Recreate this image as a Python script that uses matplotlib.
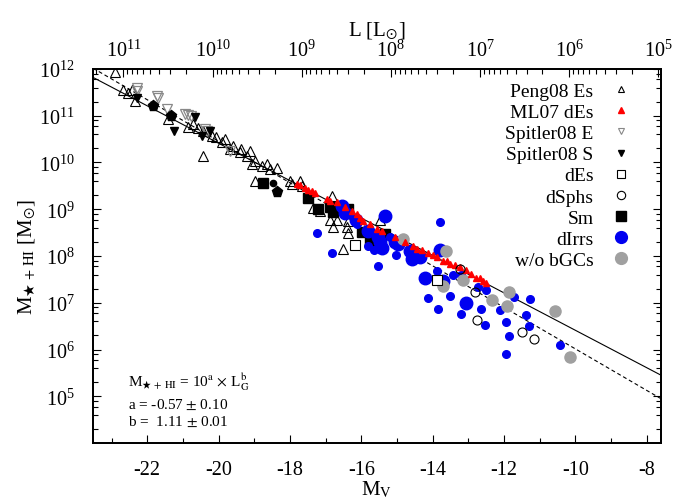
import numpy as np
import matplotlib
matplotlib.use("Agg")
import matplotlib.pyplot as plt
from matplotlib.lines import Line2D
from matplotlib.ticker import LogLocator, MultipleLocator, NullFormatter, FixedLocator

plt.rcParams['font.family'] = ['Liberation Serif', 'DejaVu Serif']
plt.rcParams['mathtext.fontset'] = 'stix'
plt.rcParams['axes.unicode_minus'] = False

MSUN = 4.83
XLIM = (-23.52, -7.6)
YLIM = (1e4, 1e12)

# ---------------- data (M_V, log10 mass) ----------------
peng_mv = [-22.91, -22.67, -22.54, -22.44, -22.34, -21.41, -20.85, -20.72, -20.58, -20.43,
           -20.45, -20.19, -20.07, -19.91, -19.82, -19.69, -19.59, -19.40, -19.36, -19.21,
           -19.12, -19.07, -18.98, -18.79, -18.65, -18.56, -18.37, -18.98, -18.00, -17.95,
           -17.72, -17.67, -17.35, -17.16, -16.83, -16.88, -16.69, -16.79, -16.36, -16.41,
           -16.36, -16.52, -15.48]
peng_lm = [11.94, 11.54, 11.49, 11.56, 11.32, 10.93, 10.75, 10.82, 10.73, 10.68,
           10.14, 10.57, 10.54, 10.44, 10.50, 10.29, 10.36, 10.22, 10.28, 10.14,
           10.25, 9.97, 10.04, 9.93, 9.97, 9.86, 9.89, 9.60, 9.61, 9.54,
           9.61, 9.50, 9.02, 8.97, 9.29, 8.77, 8.77, 8.63, 8.75, 8.63,
           8.50, 8.16, 8.77]

ml07_mv = [-17.81, -17.72, -17.58, -17.49, -17.39, -17.30, -16.97, -16.88, -16.69, -16.46,
           -16.26, -16.13, -16.04, -15.94, -15.76, -15.57, -15.43, -15.06, -14.78, -14.54,
           -14.45, -14.30, -14.12, -13.99, -13.89, -13.71, -13.61, -13.51, -13.37, -13.23,
           -13.05, -12.91, -12.77, -12.67, -12.58, -12.49]
ml07_lm = [9.55, 9.52, 9.45, 9.41, 9.38, 9.34, 9.22, 9.18, 9.15, 9.05,
           8.96, 8.90, 8.82, 8.75, 8.68, 8.57, 8.54, 8.40, 8.30, 8.22,
           8.15, 8.12, 8.07, 8.02, 7.97, 7.90, 7.89, 7.82, 7.80, 7.76,
           7.70, 7.61, 7.54, 7.52, 7.47, 7.43]

spE_mv = [-22.30, -22.28, -21.72, -21.71, -21.46, -20.94, -20.85, -20.76, -20.38, -20.33, -19.68]
spE_lm = [11.59, 11.53, 11.43, 11.37, 11.14, 11.04, 11.02, 10.99, 10.72, 10.68, 10.25]

spS_mv = [-22.30, -21.25, -20.66, -20.47, -20.24]
spS_lm = [11.37, 10.67, 10.97, 10.57, 10.68]

pent_mv = [-21.83, -21.32, -18.37]
pent_lm = [11.21, 11.00, 9.36]
dot_mv = [-18.47]
dot_lm = [9.57]

dEs_mv = [-16.18, -13.88]
dEs_lm = [8.23, 7.49]

dSph_mv = [-13.23, -12.81, -12.75, -11.50, -11.16]
dSph_lm = [7.72, 7.23, 6.63, 6.37, 6.23]

sm_mv = [-18.76, -17.49, -17.22, -16.88, -16.79, -16.36, -15.99, -15.76, -15.34]
sm_lm = [9.57, 9.25, 9.00, 9.04, 8.94, 9.00, 8.52, 8.32, 8.48]

dirr_big_mv = [-16.55, -16.46, -16.15, -15.80, -15.52, -15.48, -15.43, -15.34, -15.06, -14.96,
               -14.64, -14.59, -14.36, -13.79, -14.22, -13.70, -13.05]
dirr_big_lm = [9.07, 8.93, 8.77, 8.53, 8.40, 8.29, 8.18, 8.86, 8.29, 8.25,
               8.11, 7.93, 7.97, 8.12, 7.52, 7.47, 6.99]
dirr_small_mv = [-17.25, -16.83, -16.13, -15.82, -15.64, -15.52, -15.20, -15.03, -13.79, -13.89,
                 -13.42, -13.19, -14.12, -13.51, -13.84, -13.19, -12.73, -12.63, -12.50, -12.53,
                 -12.11, -11.94, -11.85, -11.94, -11.71, -11.27, -11.39, -11.31, -10.44]
dirr_small_lm = [8.49, 8.07, 8.68, 8.22, 8.12, 7.78, 8.40, 8.02, 8.72, 7.68,
                 7.60, 7.60, 7.11, 7.14, 6.87, 6.77, 7.33, 6.87, 7.27, 6.52,
                 6.84, 6.58, 6.29, 5.91, 7.13, 7.09, 6.73, 6.51, 6.09]

nobgc_mv = [-14.82, -13.63, -13.14, -13.72, -12.34, -11.86, -11.92, -10.56, -10.14]
nobgc_lm = [8.36, 8.11, 7.48, 7.36, 7.06, 7.22, 6.93, 6.82, 5.83]

# fit lines: log M = a + b log L
fit_dashed = (-0.57, 1.11)
fit_solid = (0.48, 1.00)

legend_labels = ["Peng08 Es", "ML07 dEs", "Spitler08 E", "Spitler08 S", "dEs",
                 "dSphs", "Sm", "dIrrs", "w/o bGCs"]


def lum(mv):
    return 10 ** (0.4 * (MSUN - np.asarray(mv)))


def m(lm):
    return 10 ** np.asarray(lm)


fig = plt.figure(figsize=(6.87, 5.02), dpi=100)
ax = fig.add_axes([0.1354, 0.1155, 0.962 - 0.1354, 0.8606 - 0.1155])

# lines
xx = np.linspace(XLIM[0], XLIM[1], 200)
ax.plot(xx, 10 ** (fit_solid[0] + fit_solid[1] * np.log10(lum(xx))), color='black', lw=0.8, zorder=2)
ax.plot(xx, 10 ** (fit_dashed[0] + fit_dashed[1] * np.log10(lum(xx))), color='black', lw=0.8,
        ls=(0, (3.5, 2.5)), zorder=2)

GRAY = '#a0a0a0'
BLUE = '#0000f0'

ax.plot(peng_mv, m(peng_lm), ls='none', marker='^', ms=7.5, mfc='none', mec='black', mew=0.8, zorder=3)
ax.plot(spE_mv, m(spE_lm), ls='none', marker='v', ms=7, mfc='none', mec='#888888', mew=0.9, zorder=3)
ax.plot(spS_mv, m(spS_lm), ls='none', marker='v', ms=6, color='black', zorder=3)
ax.plot(pent_mv, m(pent_lm), ls='none', marker='p', ms=8, color='black', zorder=3)
ax.plot(dot_mv, m(dot_lm), ls='none', marker='o', ms=4.5, color='black', zorder=3)
ax.plot(sm_mv, m(sm_lm), ls='none', marker='s', ms=6.5, color='black', zorder=3)
ax.plot(dirr_big_mv, m(dirr_big_lm), ls='none', marker='o', ms=9, color=BLUE, zorder=4)
ax.plot(dirr_small_mv, m(dirr_small_lm), ls='none', marker='o', ms=5.5, color=BLUE, zorder=4)
ax.plot(ml07_mv, m(ml07_lm), ls='none', marker='^', ms=5, color='red', zorder=5)
ax.plot(nobgc_mv, m(nobgc_lm), ls='none', marker='o', ms=8, color=GRAY, zorder=4)
ax.plot(dEs_mv, m(dEs_lm), ls='none', marker='s', ms=6.5, mfc='white', mec='black', mew=0.8, zorder=5)
ax.plot(dSph_mv, m(dSph_lm), ls='none', marker='o', ms=6.5, mfc='none', mec='black', mew=0.8, zorder=5)

ax.set_yscale('log')
ax.set_xlim(*XLIM)
ax.set_ylim(*YLIM)

ax.xaxis.set_major_locator(MultipleLocator(2))
ax.xaxis.set_minor_locator(MultipleLocator(1))
ax.yaxis.set_major_locator(FixedLocator([10.0 ** k for k in range(5, 13)]))
ax.yaxis.set_minor_locator(LogLocator(base=10, subs=(2, 4, 6, 8), numticks=20))
ax.yaxis.set_minor_formatter(NullFormatter())

ax.tick_params(which='both', direction='in', top=False, right=True, labelsize=14.5)
ax.tick_params(which='major', length=6, width=0.8)
ax.tick_params(which='minor', length=3.5, width=0.8)
ax.tick_params(axis='x', pad=12)
ax.tick_params(axis='y', pad=13)
for s in ax.spines.values():
    s.set_linewidth(1.3)

ax.set_xlabel(r"M$_{\rm V}$", fontsize=15, labelpad=0)
ax.set_ylabel(r"M$_{\bigstar\,+\,\rm HI}$ [M$_{\odot}$]", fontsize=15, labelpad=1)

# top axis in luminosity
ax2 = ax.twiny()
ax2.set_xscale('log')
ax2.set_xlim(lum(XLIM[0]), lum(XLIM[1]))
ax2.xaxis.set_major_locator(FixedLocator([10.0 ** k for k in range(5, 12)]))
ax2.xaxis.set_minor_locator(LogLocator(base=10, subs=np.arange(2, 10), numticks=30))
ax2.xaxis.set_minor_formatter(NullFormatter())
ax2.tick_params(which='both', direction='in', labelsize=14.5, pad=6)
ax2.tick_params(which='major', length=6, width=0.8)
ax2.tick_params(which='minor', length=3.5, width=0.8)
ax2.set_xlabel(r"L [L$_{\odot}$]", fontsize=15, labelpad=3)
for s in ax2.spines.values():
    s.set_linewidth(1.3)

# legend
handles = [
    Line2D([], [], ls='none', marker='^', ms=5, mfc='none', mec='black', mew=0.8),
    Line2D([], [], ls='none', marker='^', ms=5, color='red'),
    Line2D([], [], ls='none', marker='v', ms=5, mfc='none', mec='#888888', mew=0.8),
    Line2D([], [], ls='none', marker='v', ms=5, color='black'),
    Line2D([], [], ls='none', marker='s', ms=5.5, mfc='none', mec='black', mew=0.8),
    Line2D([], [], ls='none', marker='o', ms=6, mfc='none', mec='black', mew=0.8),
    Line2D([], [], ls='none', marker='s', ms=7, color='black'),
    Line2D([], [], ls='none', marker='o', ms=8.5, color=BLUE),
    Line2D([], [], ls='none', marker='o', ms=8.5, color=GRAY),
]
leg = ax.legend(handles, legend_labels, loc='upper right', bbox_to_anchor=(0.96, 0.985),
                frameon=False, markerfirst=False, fontsize=14, handlelength=1.0,
                handletextpad=0.9, labelspacing=0.18, borderaxespad=0.0)
leg.set_zorder(10)

# fit annotation
ax.text(0.062, 0.166, r"M$_{\bigstar\,+\,\rm HI}$ = 10$^{\rm a}$ $\times$ L$_{\rm G}^{\rm b}$",
        transform=ax.transAxes, fontsize=11, va='center', ha='left')
ax.text(0.062, 0.104, "a = -0.57 $\\pm$ 0.10", transform=ax.transAxes, fontsize=11,
        va='center', ha='left')
ax.text(0.062, 0.059, "b =  1.11 $\\pm$ 0.01", transform=ax.transAxes, fontsize=11,
        va='center', ha='left')

fig.savefig("out.png", dpi=100)
